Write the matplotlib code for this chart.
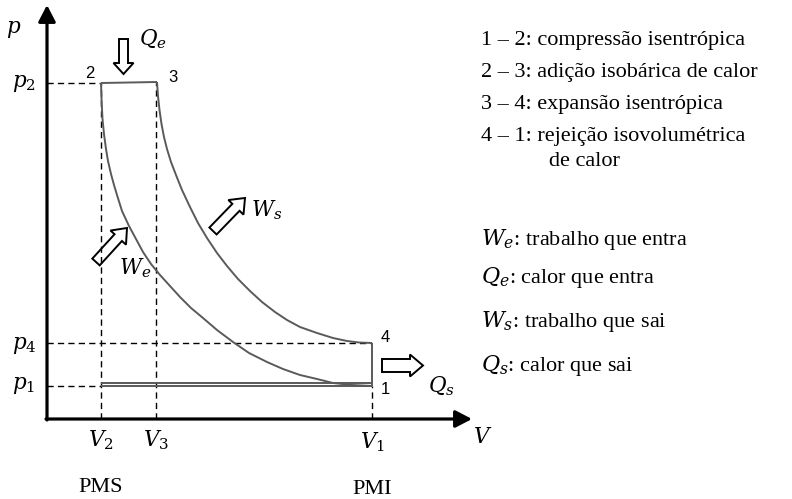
import matplotlib
matplotlib.use("Agg")
import matplotlib.pyplot as plt
from matplotlib.patches import FancyArrow

plt.rcParams['font.family'] = ['Liberation Serif', 'DejaVu Serif']
plt.rcParams['mathtext.fontset'] = 'dejavuserif'

# state levels (arbitrary units)
V2, V3, V1 = 54, 109, 325
p1, p1b, p4, p2, p3 = 33, 36, 76, 336, 337

# compression 1-2 curve (listed from 2 down to 1)
comp_V = [54, 54.6, 55.5, 57, 59, 61, 64, 67, 70, 75, 82, 89, 96, 104, 113,
          123, 133, 144, 156, 170, 186, 202, 220, 236, 253, 270, 286, 305, 325]
comp_p = [336, 318, 300, 285, 270, 258, 245, 234, 224, 208, 193, 180, 167, 155, 144,
          133, 122, 111, 101, 89, 77, 66, 57, 50, 44, 40, 36, 34, 33]

# expansion 3-4 curve
exp_V = [110, 111, 112.5, 114.5, 117, 120, 124, 129, 135, 143, 151, 160, 170,
         180, 191, 203, 215, 228, 240, 253, 270, 286, 300, 312, 325]
exp_p = [337, 323, 309, 295, 282, 270, 257, 244, 229, 212, 196, 181, 166,
         153, 140, 128, 117, 107, 99, 92, 86, 81, 78, 76.5, 76]

legend_lines = [
    "1 – 2: compressão isentrópica",
    "2 – 3: adição isobárica de calor",
    "3 – 4: expansão isentrópica",
    "4 – 1: rejeição isovolumétrica",
]
legend_syms = [
    ("$W_e$", ": trabalho que entra"),
    ("$Q_e$", ": calor que entra"),
    ("$W_s$", ": trabalho que sai"),
    ("$Q_s$", ": calor que sai"),
]

fig = plt.figure(figsize=(7.92, 4.99), dpi=100)
ax = fig.add_axes([47 / 792, 80 / 499, 425 / 792, 414 / 499])
ax.set_xlim(0, 425)
ax.set_ylim(0, 414)
ax.axis('off')

# axes with arrow heads
arr = dict(arrowstyle='-|>,head_length=0.5,head_width=0.26', lw=2.3,
           color='black', mutation_scale=20, shrinkA=0, shrinkB=0)
ax.annotate('', xy=(0, 414), xytext=(0, -1), arrowprops=arr, annotation_clip=False)
ax.annotate('', xy=(425, 0), xytext=(-1, 0), arrowprops=arr, annotation_clip=False)

# dashed guide lines
dash = dict(color='black', lw=1.0, ls=(0, (4.5, 3)))
ax.plot([V2, V2], [0, p2], **dash)
ax.plot([V3, V3], [0, p3], **dash)
ax.plot([V1, V1], [0, p1], **dash)
ax.plot([0, V2], [p2, p2], **dash)
ax.plot([0, V1], [p4, p4], **dash)
ax.plot([0, V2], [p1, p1], **dash)

# cycle
cyc = dict(color='#5a5a5a', lw=1.4, solid_capstyle='butt', solid_joinstyle='round')
ax.plot(comp_V, comp_p, **cyc)
ax.plot(exp_V, exp_p, **cyc)
ax.plot([V2, V3 + 1], [p2, p3], **cyc)
ax.plot([V1, V1], [p4, p1], **cyc)
ax.plot([V2, V1], [p1, p1], **cyc)
ax.plot([V2, V1], [p1b, p1b], **cyc)

# hollow arrows
hollow = dict(length_includes_head=True, fc='white', ec='black', lw=1.4)
ax.add_patch(FancyArrow(76.5, 380, 0, -35, width=9, head_width=20, head_length=11, **hollow))
ax.add_patch(FancyArrow(335, 53.5, 41, 0, width=13, head_width=22, head_length=13, **hollow))
ax.add_patch(FancyArrow(166, 188, 32, 33, width=10, head_width=21, head_length=13, **hollow))
ax.add_patch(FancyArrow(49, 157, 31, 34, width=10, head_width=21, head_length=13, **hollow))

# math labels
ms = 15.5
ax.text(-33, 389, '$p$', fontsize=ms, ha='center', va='center')
ax.text(-23, 335, '$p_2$', fontsize=ms, ha='center', va='center')
ax.text(-23, 74, '$p_4$', fontsize=ms, ha='center', va='center')
ax.text(-23, 33, '$p_1$', fontsize=ms, ha='center', va='center')
ax.text(106, 380, '$Q_e$', fontsize=ms, ha='center', va='center')
ax.text(220, 209, '$W_s$', fontsize=ms, ha='center', va='center')
ax.text(88, 151, '$W_e$', fontsize=ms, ha='center', va='center')
ax.text(394, 33, '$Q_s$', fontsize=ms, ha='center', va='center')
ax.text(V2, -21, '$V_2$', fontsize=ms, ha='center', va='center')
ax.text(V3, -21, '$V_3$', fontsize=ms, ha='center', va='center')
ax.text(V1, -23, '$V_1$', fontsize=ms, ha='center', va='center')
ax.text(436, -19, '$V$', fontsize=ms, ha='center', va='center')
ax.text(V2, -68, 'PMS', fontsize=16, ha='center', va='center')
ax.text(V1, -71, 'PMI', fontsize=16, ha='center', va='center')

# state numbers
ns = dict(fontsize=12, ha='center', va='center', family=['Liberation Sans', 'DejaVu Sans'])
ax.text(43, 346, '2', **ns)
ax.text(126, 341, '3', **ns)
ax.text(338, 82, '4', **ns)
ax.text(338, 30, '1', **ns)

# legend text on the right
ls = 16
for txt, y in zip(legend_lines, [379, 346, 315, 282]):
    ax.text(434, y, txt, fontsize=ls, ha='left', va='center')
ax.text(502, 258, 'de calor', fontsize=ls, ha='left', va='center')
for (sym, txt), y in zip(legend_syms, [179, 141, 97, 54]):
    ax.text(434, y, sym + txt, fontsize=ls, ha='left', va='center')

fig.savefig('out.png', dpi=100)
